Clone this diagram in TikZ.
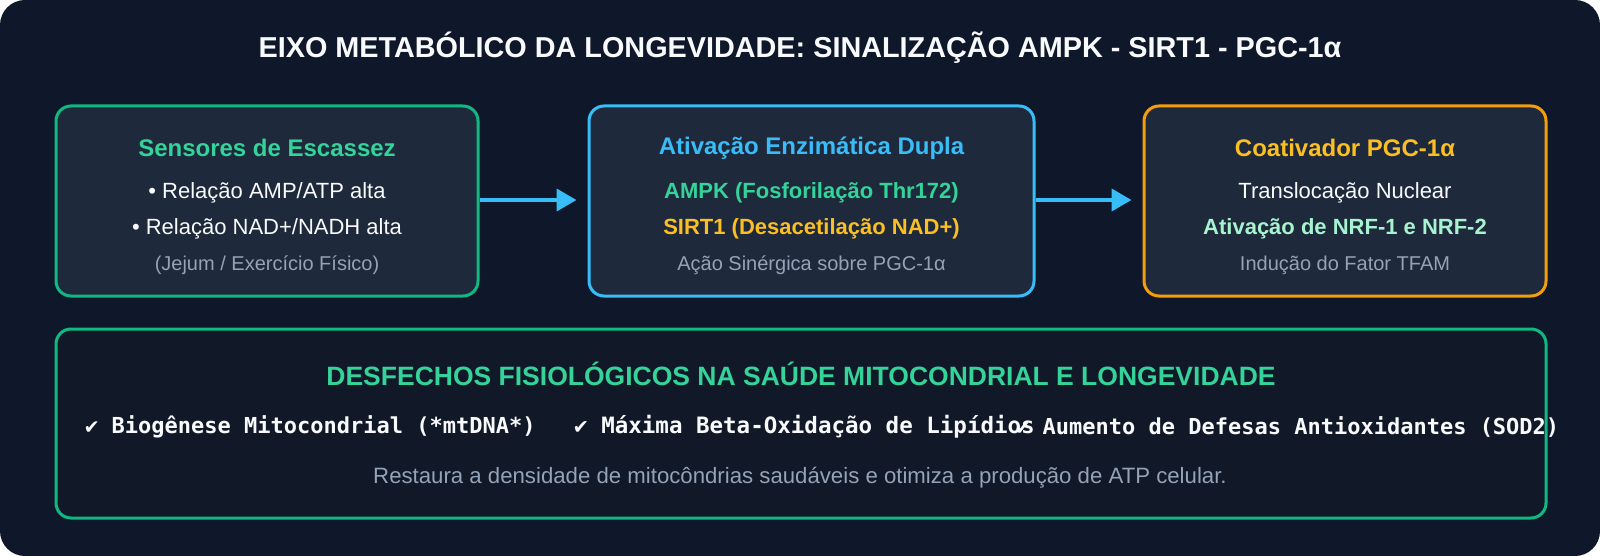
\documentclass[tikz,border=0pt]{standalone}
\usepackage{fontspec}
\setmainfont{Liberation Sans}
\newfontfamily\monobold{DejaVu Sans Mono}[BoldFont={DejaVu Sans Mono Bold}]
\usetikzlibrary{arrows.meta,positioning}
\definecolor{bgdark}{HTML}{0F172A}
\definecolor{boxfill}{HTML}{1E293B}
\definecolor{lowfill}{HTML}{111827}
\definecolor{emer}{HTML}{10B981}
\definecolor{emerlt}{HTML}{34D399}
\definecolor{mint}{HTML}{A7F3D0}
\definecolor{sky}{HTML}{38BDF8}
\definecolor{amberb}{HTML}{F59E0B}
\definecolor{amberlt}{HTML}{FBBF24}
\definecolor{slategray}{HTML}{94A3B8}
\definecolor{offwhite}{HTML}{F8FAFC}
\tikzset{
  panel/.style={draw, line width=3pt, rounded corners=15pt, fill=boxfill, minimum width=#1, minimum height=190pt, inner sep=0pt},
  headtxt/.style={font=\fontsize{24}{28}\selectfont\bfseries, anchor=center, inner sep=0pt},
  bodytxt/.style={font=\fontsize{22}{26}\selectfont, text=offwhite, anchor=center, inner sep=0pt},
  boldtxt/.style={font=\fontsize{22}{26}\selectfont\bfseries, anchor=center, inner sep=0pt},
  notetxt/.style={font=\fontsize{20}{24}\selectfont, text=slategray, anchor=center, inner sep=0pt},
  monotxt/.style={font=\fontsize{22}{26}\selectfont\monobold\bfseries, text=offwhite, anchor=west, inner sep=0pt},
  flow/.style={draw=sky, line width=4pt, -{Triangle[length=20pt,width=22pt]}, shorten >=11pt}
}
\begin{document}
\begin{tikzpicture}[x=1pt,y=-1pt]
\fill[white] (0,0) rectangle (1600,556);
\useasboundingbox (0,0) rectangle (1600,556);
\fill[bgdark, rounded corners=25pt] (0,0) rectangle (1600,556);

\node[font=\fontsize{28.8}{32}\selectfont\bfseries, text=offwhite, inner sep=0pt] (title) at (800,48) {EIXO METABÓLICO DA LONGEVIDADE: SINALIZAÇÃO AMPK - SIRT1 - PGC-1α};

% top panels
\node[panel=422pt, draw=emer] (p1) at (267,201) {};
\node[panel=445pt, draw=sky] (p2) at (811.5,201) {};
\node[panel=402pt, draw=amberb] (p3) at (1345,201) {};

\node[headtxt, text=emerlt] (h1) at (267,148) {Sensores de Escassez};
\node[bodytxt] (a1) at (267,193) {• Relação AMP/ATP alta};
\node[bodytxt] (a2) at (267,229) {• Relação NAD+/NADH alta};
\node[notetxt] (a3) at (267,265) {(Jejum / Exercício Físico)};

\node[headtxt, text=sky] (h2) at (811.5,148) {Ativação Enzimática Dupla};
\node[boldtxt, text=emerlt] (b1) at (811.5,193) {AMPK (Fosforilação Thr172)};
\node[boldtxt, text=amberlt] (b2) at (811.5,229) {SIRT1 (Desacetilação NAD+)};
\node[notetxt] (b3) at (811.5,265) {Ação Sinérgica sobre PGC-1α};

\node[headtxt, text=amberlt] (h3) at (1345,148) {Coativador PGC-1α};
\node[bodytxt] (c1) at (1345,193) {Translocação Nuclear};
\node[boldtxt, text=mint] (c2) at (1345,229) {Ativação de NRF-1 e NRF-2};
\node[notetxt] (c3) at (1345,265) {Indução do Fator TFAM};

\draw[flow] (p1.east |- 0,200) -- (p2.west |- 0,200);
\draw[flow] (p2.east |- 0,200) -- (p3.west |- 0,200);

% bottom panel
\node[draw=emer, line width=3pt, rounded corners=15pt, fill=lowfill, minimum width=1490pt, minimum height=189pt, inner sep=0pt] (p4) at (801,423.5) {};
\node[font=\fontsize{26.5}{30}\selectfont\bfseries, text=emerlt, inner sep=0pt] (h4) at (801,374) {DESFECHOS FISIOLÓGICOS NA SAÚDE MITOCONDRIAL E LONGEVIDADE};
\node[monotxt] (m1) at (85,427) {✔ Biogênese Mitocondrial (*mtDNA*)};
\node[monotxt, font=\fontsize{22.5}{26}\selectfont\monobold\bfseries] (m2) at (574,427) {✔ Máxima Beta-Oxidação de Lipídios};
\node[monotxt] (m3) at (1016,427) {✔ Aumento de Defesas Antioxidantes (SOD2)};
\node[font=\fontsize{22.2}{26}\selectfont, text=slategray, inner sep=0pt] (foot) at (800,478) {Restaura a densidade de mitocôndrias saudáveis e otimiza a produção de ATP celular.};
\end{tikzpicture}
\end{document}
